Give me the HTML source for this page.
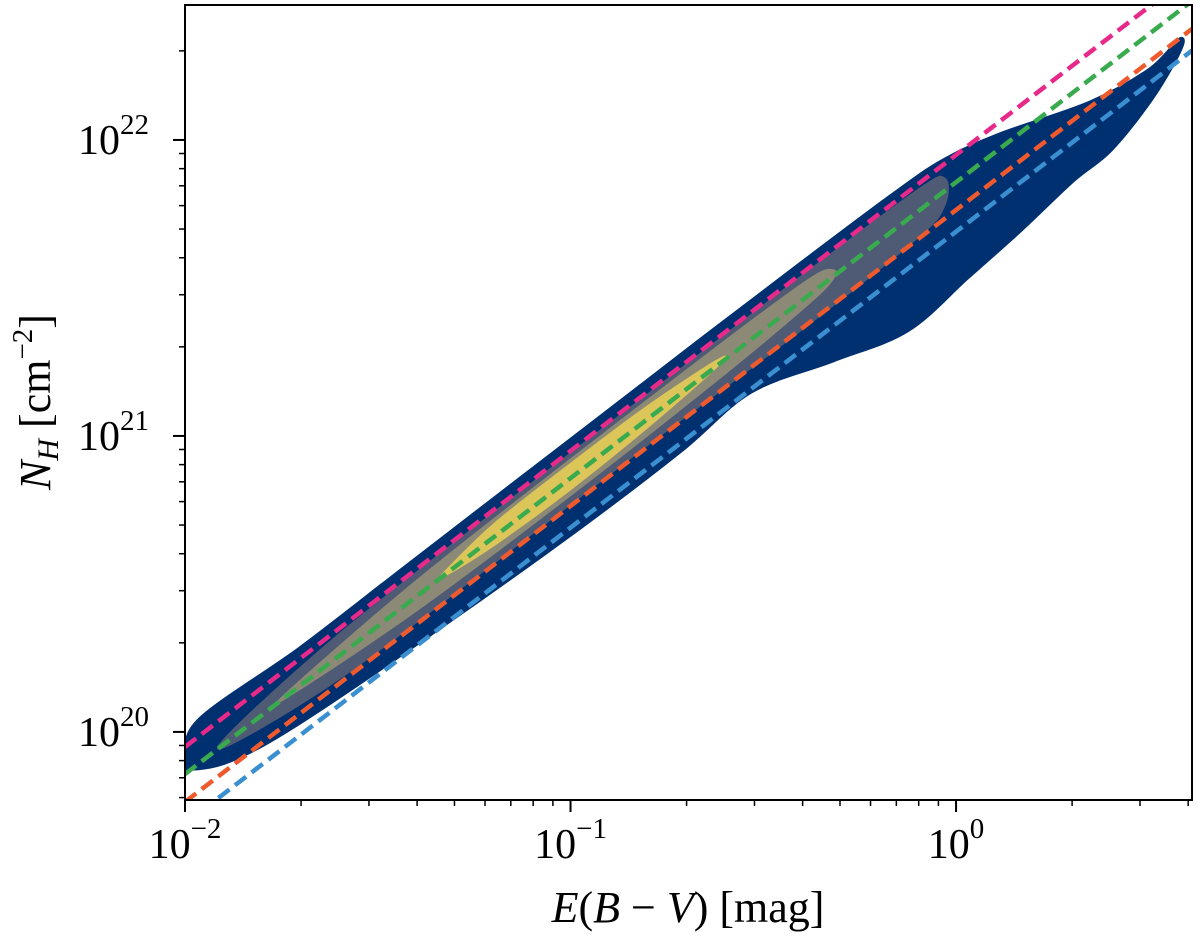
<!DOCTYPE html>
<html><head><meta charset="utf-8"><style>
body{margin:0;background:#fff}
svg{display:block}
text{font-family:"Liberation Serif",serif;fill:#000}
</style></head><body>
<svg id="chart" width="1200" height="939" viewBox="0 0 1200 939" xmlns="http://www.w3.org/2000/svg"></svg>
<script>
// axis ranges (log10)
const xLogRange = [-2, 0.612];
const yLogRange = [19.770, 22.456];
const xMajorExps = [-2, -1, 0];
const yMajorExps = [20, 21, 22];
// fit lines NH = k * E(B-V)
const lineNames = ['pink-fit','green-fit','orange-fit','blue-fit'];
const lineCoeffs = [8.9e21, 7.2e21, 5.8e21, 4.9e21];
const lineColors = ['#e7298a','#3aaa4f','#ee5a2e','#3a8fd0'];
// outer density contour (log E, log NH)
const outerLogE = [-1.995,-1.961,-1.702,-1.442,-1.183,-0.923,-0.664,-0.405,-0.145,-0.023,0.114,0.348,0.503,0.581,0.573,0.503,0.399,0.303,0.166,0.029,-0.127,-0.319,-0.534,-0.716,-0.975,-1.313,-1.702,-1.883,-1.995];
const outerLogNH = [19.912,20.041,20.280,20.541,20.801,21.061,21.321,21.578,21.831,21.936,22.017,22.125,22.236,22.338,22.287,22.135,21.966,21.865,21.696,21.537,21.358,21.257,21.150,20.950,20.693,20.378,20.034,19.905,19.878];
// inner contours: offsets (dex) from green reference line log NH = log E + 21.86
const refOffset = 21.86;
const l2LogE = [-1.88,-1.6,-1.2,-0.8,-0.4,-0.1,-0.03];
const l2Up = [0.02,0.07,0.08,0.08,0.08,0.07,0.04];
const l2Down = [-0.02,-0.08,-0.09,-0.09,-0.1,-0.09,-0.05];
const l3LogE = [-1.72,-1.4,-1.0,-0.6,-0.38,-0.32];
const l3Up = [0.01,0.05,0.06,0.06,0.05,0.02];
const l3Down = [-0.01,-0.05,-0.06,-0.05,-0.03,-0.01];
const l4LogE = [-1.33,-1.2,-1.0,-0.8,-0.62];
const l4Up = [0.005,0.04,0.045,0.04,0.015];
const l4Down = [-0.005,-0.03,-0.04,-0.03,-0.005];

const PL=185, PR=1192, PT=5, PB=800;
const sx = v => PL + (v - xLogRange[0])/(xLogRange[1]-xLogRange[0])*(PR-PL);
const sy = v => PB - (v - yLogRange[0])/(yLogRange[1]-yLogRange[0])*(PB-PT);
const NS='http://www.w3.org/2000/svg';
const svg=document.getElementById('chart');
function mk(tag, attrs, parent){const e=document.createElementNS(NS,tag);for(const k in attrs)e.setAttribute(k,attrs[k]);(parent||svg).appendChild(e);return e;}
// closed Catmull-Rom smoothing
function smooth(pts){
  const n=pts.length;let d='M'+pts[0][0].toFixed(1)+','+pts[0][1].toFixed(1);
  for(let i=0;i<n;i++){
    const p0=pts[(i-1+n)%n],p1=pts[i],p2=pts[(i+1)%n],p3=pts[(i+2)%n];
    const c1=[p1[0]+(p2[0]-p0[0])/6,p1[1]+(p2[1]-p0[1])/6];
    const c2=[p2[0]-(p3[0]-p1[0])/6,p2[1]-(p3[1]-p1[1])/6];
    d+=' C'+c1[0].toFixed(1)+','+c1[1].toFixed(1)+' '+c2[0].toFixed(1)+','+c2[1].toFixed(1)+' '+p2[0].toFixed(1)+','+p2[1].toFixed(1);
  }
  return d+'Z';
}

const defs=mk('defs',{});
const cp=mk('clipPath',{id:'clip'},defs);
mk('rect',{x:PL,y:PT,width:PR-PL,height:PB-PT},cp);
const plot=mk('g',{'clip-path':'url(#clip)'});



const outerPts=outerLogE.map((v,i)=>[sx(v),sy(outerLogNH[i])]);
const outer=mk('path',{d:smooth(outerPts),fill:'#00306f',stroke:'#00306f','stroke-width':5,'stroke-linejoin':'round'},plot);



function band(le,up,dn,color,name){
  const pts=[];
  le.forEach((v,i)=>pts.push([sx(v),sy(v+refOffset+up[i])]));
  for(let i=le.length-1;i>=0;i--)pts.push([sx(le[i]),sy(le[i]+refOffset+dn[i])]);
  const p=mk('path',{d:smooth(pts),fill:color,stroke:color,'stroke-width':2,'stroke-linejoin':'round'},plot);
  
  
}
band(l2LogE,l2Up,l2Down,'#4f5a74','density-contour-level-2');
band(l3LogE,l3Up,l3Down,'#8c8976','density-contour-level-3');
band(l4LogE,l4Up,l4Down,'#dcc65a','density-contour-level-4');

lineCoeffs.forEach((k,i)=>{
  const lk=Math.log10(k);
  const l=mk('line',{x1:sx(xLogRange[0]),y1:sy(xLogRange[0]+lk),x2:sx(xLogRange[1]),y2:sy(xLogRange[1]+lk),stroke:lineColors[i],'stroke-width':4.5,'stroke-dasharray':'14 7'},plot);
  
  
});

const fr=mk('rect',{x:PL,y:PT,width:PR-PL,height:PB-PT,fill:'none',stroke:'#000','stroke-width':2});



const xt=mk('g',{});


for(let e=-2;e<=0;e++){for(let m=1;m<10;m++){const v=e+Math.log10(m);if(v>xLogRange[1])break;const X=sx(v);
  mk('line',{x1:X,y1:PB,x2:X,y2:PB+(m===1?12:6),stroke:'#000','stroke-width':m===1?2:1.5},xt);}}
xMajorExps.forEach(e=>{const t=mk('text',{x:sx(e),y:858,'font-size':42,'text-anchor':'middle'},xt);
  
  
  t.innerHTML='10<tspan dy="-20" font-size="29">'+(e<0?'−'+(-e):e)+'</tspan>';});
const yt=mk('g',{});


for(let e=19;e<=22;e++){for(let m=1;m<10;m++){const v=e+Math.log10(m);if(v<yLogRange[0]||v>yLogRange[1])continue;const Y=sy(v);
  mk('line',{x1:PL-(m===1?12:6),y1:Y,x2:PL,y2:Y,stroke:'#000','stroke-width':m===1?2:1.5},yt);}}
yMajorExps.forEach(e=>{const t=mk('text',{x:78,y:sy(e)+14,'font-size':42},yt);
  
  
  t.innerHTML='10<tspan dy="-20" font-size="29">'+e+'</tspan>';});

const xl=mk('text',{x:688,y:922,'font-size':44,'text-anchor':'middle'});


xl.innerHTML='<tspan font-style="italic">E</tspan>(<tspan font-style="italic">B</tspan> − <tspan font-style="italic">V</tspan>) [mag]';
const yl=mk('text',{x:0,y:0,'font-size':44,'text-anchor':'middle',transform:'translate(50,402) rotate(-90)'});


yl.innerHTML='<tspan font-style="italic">N</tspan><tspan font-style="italic" font-size="30" dy="8">H</tspan><tspan dy="-8"> [cm</tspan><tspan dy="-18" font-size="29">−2</tspan><tspan dy="18">]</tspan>';
</script>
</body></html>
